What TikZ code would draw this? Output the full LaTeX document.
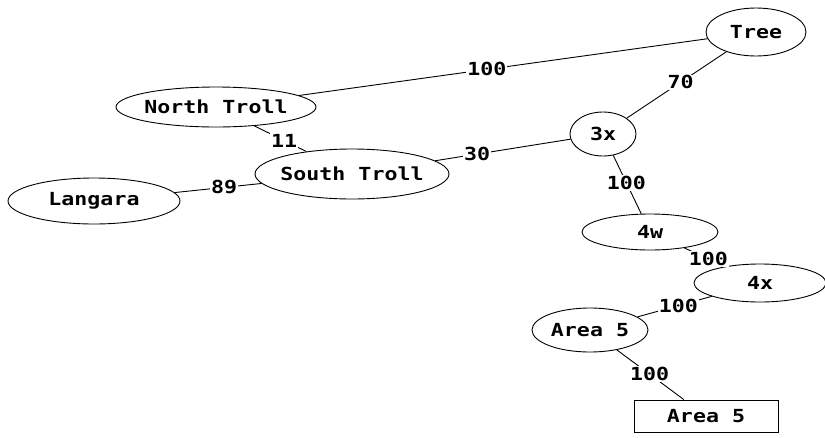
\documentclass[tikz,border=0pt]{standalone}
\usepackage{fontspec}
\newfontfamily\pixfont[FakeStretch=1.2]{DejaVu Sans Mono}
\usetikzlibrary{shapes.geometric}
\tikzset{
  txt/.style={font=\pixfont\bfseries\fontsize{18}{18}\selectfont, text=black},
  el/.style 2 args={draw=black, line width=0.9pt, ellipse, inner sep=0pt,
     minimum width=#1, minimum height=#2},
  boxnode/.style={draw=black, line width=0.9pt, rectangle, inner sep=0pt,
     minimum width=144pt, minimum height=32pt, txt},
  conn/.style={draw=black, line width=0.9pt},
  wt/.style={txt, fill=white, inner sep=1pt}
}
\begin{document}
\begin{tikzpicture}[x=1pt, y=-1pt]
\useasboundingbox (0,0) rectangle (825,437);
\node[el={100pt}{48pt}, label={[txt]center:Tree}] (tree) at (756,32) {};
\node[el={200pt}{40pt}, label={[txt]center:North Troll}] (nt) at (216,107) {};
\node[el={66pt}{44pt}, label={[txt]center:3x}] (x3) at (603,134) {};
\node[el={194pt}{50pt}, label={[txt]center:South Troll}] (st) at (352,174) {};
\node[el={172pt}{46pt}, label={[txt]center:Langara}] (lang) at (94,201) {};
\node[el={136pt}{36pt}, label={[txt]center:4w}] (w4) at (650,232) {};
\node[el={132pt}{38pt}, label={[txt]center:4x}] (x4) at (760,283) {};
\node[el={116pt}{44pt}, label={[txt]center:Area 5}] (a5) at (590,330) {};
\node[boxnode] (a5b) at (706,416) {Area 5};

\draw[conn] (nt) -- node[wt, pos=0.46] {100} (tree);
\draw[conn] (tree) -- node[wt, pos=0.46] {70} (x3);
\draw[conn] (nt) -- node[wt, pos=0.57] {11} (st);
\draw[conn] (st) -- node[wt, pos=0.31] {30} (x3);
\draw[conn] (lang) -- node[wt, pos=0.57] {89} (st);
\draw[conn] (x3) -- node[wt, pos=0.47] {100} (w4);
\draw[conn] (w4) -- node[wt, pos=0.6] {100} (x4);
\draw[conn] (x4) -- node[wt, pos=0.45] {100} (a5);
\draw[conn] (a5) -- node[wt, pos=0.49] {100} (a5b);
\end{tikzpicture}
\end{document}
